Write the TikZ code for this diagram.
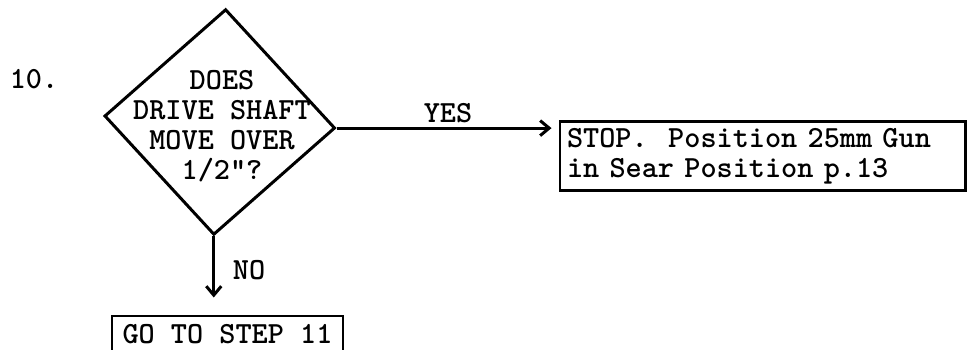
\documentclass[tikz,border=0pt]{standalone}
\usepackage{tikz}
\usetikzlibrary{positioning, arrows.meta, shapes.geometric}

\begin{document}
\begin{tikzpicture}[line width=1.7pt,
  every node/.style={font=\fontsize{17.5}{17.07}\selectfont\ttfamily\bfseries,inner sep=1pt},
  ask/.style={draw,diamond,aspect=1,minimum width=4.62cm,minimum height=4.52cm,inner sep=0pt,rotate=-3},
  box/.style={draw,rectangle,inner sep=0.14cm},
  >={Straight Barb[length=1.8mm,width=3mm]}]
  \useasboundingbox (0,0) rectangle (19.42,6.98);
  \clip (0,0) rectangle (19.42,6.98);

  \node (n10) at (0.68,5.40) {10.};
  \node (q10) [ask] at (4.395,4.54) {};
  \node (q10txt) [align=center] at (4.44,4.46) {DOES\\DRIVE SHAFT\\MOVE OVER\\1/2"?};
  \node (stop) [box,text width=7.82cm,minimum height=1.24cm,align=left] at (15.25,3.86)
    {STOP.\ \ Position 25mm Gun\\in Sear Position p.13};
  \node (go) [box,minimum width=4.62cm,minimum height=0.72cm] at (4.55,0.30) {GO TO STEP 11};

  \node (yes) at (8.96,4.72) {YES};
  \node (no) at (4.98,1.58) {NO};

  \draw[->,shorten >=0.14cm] (q10.east) -- (q10.east -| stop.west);
  \draw[->,shorten >=0.34cm] (q10.south) -- (q10.south |- go.north);
\end{tikzpicture}
\end{document}
